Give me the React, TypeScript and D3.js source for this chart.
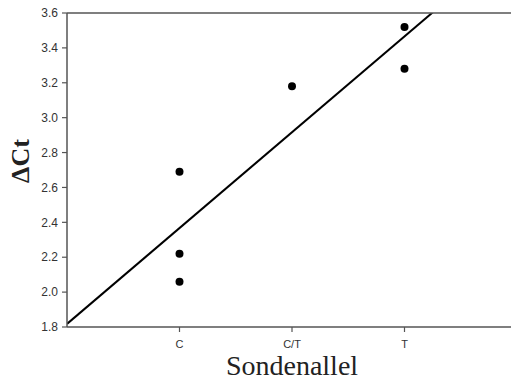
import React from "react";
import * as d3 from "d3";

// Genotype categories on the x axis
const categories = ["C", "C/T", "T"];
// Each sample's probe allele and its ΔCt value
const sampleAllele = ["C", "C", "C", "C/T", "T", "T"];
const deltaCt = [2.69, 2.22, 2.06, 3.18, 3.52, 3.28];
// Y axis ticks
const yTicks = [1.8, 2.0, 2.2, 2.4, 2.6, 2.8, 3.0, 3.2, 3.4, 3.6];

const W = 511;
const H = 381;
const left = 67;
const top = 13;
const bottom = 327;
const right = 517;

export default function App() {
  const x = d3.scaleLinear().domain([0, 4]).range([left, right]);
  const y = d3.scaleLinear().domain([1.8, 3.6]).range([bottom, top]);

  const codes = sampleAllele.map((a) => categories.indexOf(a) + 1);
  const mx = d3.mean(codes) as number;
  const my = d3.mean(deltaCt) as number;
  let sxx = 0;
  let sxy = 0;
  codes.forEach((c, i) => {
    sxx += (c - mx) * (c - mx);
    sxy += (c - mx) * (deltaCt[i] - my);
  });
  const slope = sxy / sxx;
  const intercept = my - slope * mx;
  const fit = d3
    .line<number>()
    .x((d) => x(d))
    .y((d) => y(intercept + slope * d));

  const axisColor = "#555";
  const tickFont = "'Liberation Sans', Arial, sans-serif";

  return (
    <svg width={W} height={H} style={{ position: "absolute", left: 0, top: 0 }}>
      <defs>
        <clipPath id="plot">
          <rect x={left} y={top} width={right - left} height={bottom - top} />
        </clipPath>
      </defs>
      <rect width={W} height={H} fill="#fff" />

      {/* regression line */}
      <path
        d={fit([0, 4]) || ""}
        stroke="#000"
        strokeWidth={2}
        fill="none"
        clipPath="url(#plot)"
      />

      {/* samples */}
      {deltaCt.map((v, i) => (
        <circle key={i} cx={x(codes[i])} cy={y(v)} r={4} fill="#000" />
      ))}

      {/* frame */}
      <line x1={left} x2={W} y1={top} y2={top} stroke={axisColor} strokeWidth={1.5} />
      <line x1={left} x2={W} y1={bottom} y2={bottom} stroke={axisColor} strokeWidth={1.5} />
      <line x1={left} x2={left} y1={top} y2={bottom} stroke={axisColor} strokeWidth={1.5} />

      {/* y ticks */}
      {yTicks.map((t) => (
        <g key={t}>
          <line x1={left - 5} x2={left} y1={y(t)} y2={y(t)} stroke={axisColor} strokeWidth={1.2} />
          <text
            x={left - 9}
            y={y(t)}
            dy="0.35em"
            textAnchor="end"
            fontFamily={tickFont}
            fontSize={12}
            fill="#333"
          >
            {t.toFixed(1)}
          </text>
        </g>
      ))}

      {/* x ticks */}
      {categories.map((c, i) => (
        <g key={c}>
          <line x1={x(i + 1)} x2={x(i + 1)} y1={bottom} y2={bottom + 5} stroke={axisColor} strokeWidth={1.2} />
          <text
            x={x(i + 1)}
            y={bottom + 21}
            textAnchor="middle"
            fontFamily={tickFont}
            fontSize={11}
            fill="#333"
          >
            {c}
          </text>
        </g>
      ))}

      {/* axis titles */}
      <text
        x={x(2)}
        y={375}
        textAnchor="middle"
        fontFamily="'Liberation Serif', 'Times New Roman', serif"
        fontSize={28}
        fill="#222"
      >
        Sondenallel
      </text>
      <text
        transform="translate(29, 161) rotate(-90)"
        textAnchor="middle"
        fontFamily="'Liberation Serif', 'Times New Roman', serif"
        fontWeight="bold"
        fontSize={26}
        fill="#222"
      >
        ΔCt
      </text>
    </svg>
  );
}
